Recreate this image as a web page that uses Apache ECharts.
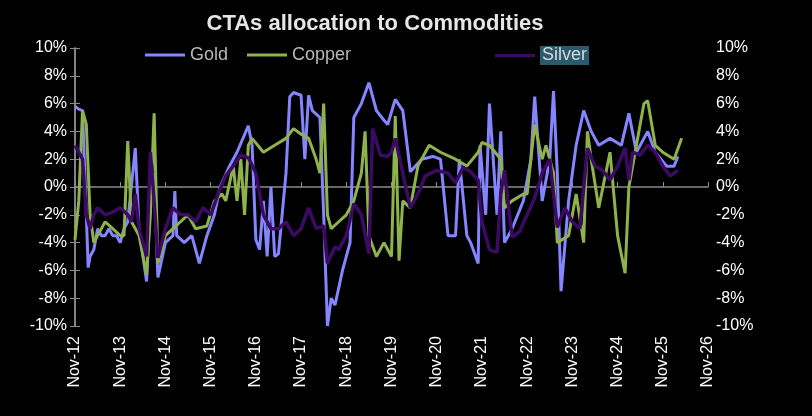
<!DOCTYPE html>
<html>
<head>
<meta charset="utf-8">
<script src="https://cdn.jsdelivr.net/npm/echarts@6/dist/echarts.min.js"></script>
<style>
  html, body { margin: 0; background: #000; }
  #main { width: 812px; height: 416px; }
</style>
</head>
<body>
<div id="main"></div>
<script>
// x = months since Nov-12, y = allocation in %
const gold = [
  [0, 5.8], [1, 5.6], [2, 5.5], [3, -2], [3.5, -5.8], [4, -5], [5, -4.5], [6, -3], [7, -3.5], [8, -3.5],
  [9, -3], [10, -3.5], [11, -3.5], [12, -4], [13, -3], [14, -2.5], [16, 2.8], [17, -3], [19, -6.8], [20, -1],
  [21, 1], [22, -6.5], [24, -4], [26, -3.5], [26.5, -0.3], [27, -3.5], [29, -4], [31, -3.5], [33, -5.5], [35, -3.5],
  [37, -2], [38.5, 0], [41, 1.5], [43, 2.5], [46, 4.4], [47, 3], [48, -3.8], [49, -4.5], [50, -1], [51, -5],
  [52, 0], [53, -5], [54, -4.8], [56, 1], [57, 6.5], [58, 6.8], [60, 6.6], [61, 2], [62, 6.6], [63, 5.5],
  [65, 5], [66, -2], [67, -10], [68, -8], [69, -8.5], [71, -6], [73, -4], [74, 5], [76, 6], [78, 7.5],
  [80, 5.5], [82, 4.8], [83, 4.5], [85, 6.3], [87, 5.5], [89, 1.1], [92, 2], [95, 2.2], [97, 2], [99, -3.5],
  [101, -3.5], [102, 2], [104, -3.5], [105, -4], [107, -5.5], [107.5, 3], [109, -2], [110, 6], [112, -2], [113, 4],
  [114, -4], [116, -3], [119, -1], [121, 2], [122, 6.5], [124, -1], [126, 2], [127, 6.9], [128, 1], [129, -7.5],
  [131, -1], [133, 3], [135, 5.5], [137, 4], [139, 3], [142, 3.5], [145, 3], [147, 5.3], [149, 2.5], [152, 4],
  [154, 2.5], [157, 1.5], [159, 1.5], [160, 2.2]
];
const copper = [
  [0, -3.8], [1, -1], [2, 5.5], [3, 4.5], [4, -2], [5, -4], [6, -3.5], [8, -2.5], [10, -3], [12, -3.5],
  [13, -3.5], [14, 3.3], [15, -2.5], [17, -3.5], [19, -6.3], [20, -2], [21, 5.3], [22, -5.5], [24, -3.5], [26, -3],
  [28, -2.5], [30, -2], [32, -3], [35, -2.8], [37, -1], [39, -0.5], [40, -1], [42, 1.5], [43, -1], [44, 2],
  [45, -2], [46, 3], [47, 3.5], [50, 2.5], [53, 3], [56, 3.5], [58, 4.2], [60, 3.8], [62, 3.5], [64, 2],
  [65, 1], [66, 6], [67, -2], [68, -3], [70, -2.5], [72, -2], [74, -1], [76, 1], [77, 4], [78, -3.5],
  [80, -5], [82, -4], [83, -4.5], [84, -5], [85, 5.1], [86, -5.3], [87, -1], [89, -1.5], [91, 1.5], [94, 3],
  [97, 2.5], [101, 2], [104, 1.5], [107, 2.5], [108, 3.2], [110, 3], [113, 2], [114, -1.5], [116, -1], [119, -0.5],
  [120, -0.5], [122, 4.5], [124, 2], [125, 3], [127, 1], [128, -4], [131, -3.5], [133, -0.5], [135, -4], [136, 4],
  [137, 2], [139, -1.5], [142, 2.5], [144, -3.5], [146, -6.2], [147, 0], [149, 3], [151, 6], [152, 6.2], [154, 3],
  [156, 2.5], [159, 2], [161, 3.5]
];
const silver = [
  [0, 3], [1, 2.5], [2, 2], [3, -2], [4, -3], [5, -2], [6, -1.5], [8, -2], [10, -1.8], [12, -1.5],
  [14, -2], [15, -2.5], [16, -0.5], [17, -3], [19, -5], [20, 2.5], [21, -1], [22, -5.1], [24, -3], [26, -1.5],
  [28, -2], [30, -2], [32, -2.5], [34, -1.5], [36, -2], [38, -0.5], [40, 0.8], [42, 1.5], [44, 2.3], [46, 2.1],
  [48, 1], [50, -2], [52, -3], [54, -3], [56, -2.5], [58, -3.5], [60, -3], [62, -1.5], [64, -3], [66, -2.8],
  [67, -5.5], [69, -4.3], [70, -4.5], [72, -3.5], [74, -1.2], [76, -2], [78, -4.8], [79, 4.2], [81, 2.3], [83, 2.2],
  [84, 2.5], [85, 3.5], [87, 1], [89, -1.5], [91, -0.5], [93, 0.8], [96, 1.2], [99, 1], [101, 0.3], [103, 1.4],
  [105, 1.1], [107, 0.5], [108, -2.5], [110, -4.5], [112, -4.7], [113, -0.5], [114, 1.2], [116, -3.6], [118, -3.2], [120, -2],
  [122, -0.8], [124, 1], [126, 2], [127, -0.5], [128, -2.9], [130, -1.5], [132, -2.5], [134, -3], [136, 2.8], [138, 1.5],
  [140, 1.2], [142, 0.5], [144, 1.5], [146, 2.8], [147, 0.5], [148, 2.5], [150, 2.3], [152, 3], [154, 2.5], [156, 1.5],
  [158, 0.8], [160, 1.2]
];
const tickYears = [12, 13, 14, 15, 16, 17, 18, 19, 20, 21, 22, 23, 24, 25, 26];

const axisGray = '#8c8c8c';
const font = 'Liberation Sans, Arial, sans-serif';

const yAxisBase = (position) => ({
  type: 'value',
  position: position,
  min: -10,
  max: 10,
  interval: 2,
  axisLine: { show: true, lineStyle: { color: axisGray, width: 1.5 } },
  axisTick: { show: true, length: 5, lineStyle: { color: axisGray } },
  splitLine: { show: false },
  axisLabel: { color: '#fff', fontSize: 16, fontFamily: font, formatter: (v) => v + '%' }
});

const lineSeries = (name, data, color, width, z) => ({
  name: name,
  type: 'line',
  data: data,
  showSymbol: false,
  symbol: 'none',
  lineStyle: { color: color, width: width },
  itemStyle: { color: color },
  z: z
});

const legendBase = (name, left, extra) => ({
  data: [name],
  top: 41,
  left: left,
  icon: 'rect',
  itemWidth: 40,
  itemHeight: 3,
  itemGap: 3,
  textStyle: Object.assign({ color: '#b8b8b8', fontSize: 18, fontFamily: font }, extra || {})
});

const chart = echarts.init(document.getElementById('main'));
chart.setOption({
  backgroundColor: '#000',
  animation: false,
  title: {
    text: 'CTAs allocation to Commodities',
    left: 370,
    top: 8,
    textAlign: 'center',
    textStyle: { color: '#e6e6e6', fontSize: 22, fontWeight: 'bold', fontFamily: font }
  },
  legend: [
    legendBase('Gold', 140),
    legendBase('Copper', 242),
    legendBase('Silver', 490, { color: '#d8d8d8', backgroundColor: '#2b5a6e', padding: [1, 2, 0, 2] })
  ],
  grid: { left: 75, right: 104, top: 48, bottom: 90 },
  xAxis: [
    {
      type: 'value',
      min: 0,
      max: 168,
      interval: 12,
      position: 'bottom',
      axisLine: { show: false, onZero: false },
      axisTick: { show: false },
      splitLine: { show: false },
      axisLabel: {
        color: '#fff', fontSize: 16, fontFamily: font, rotate: 90, margin: 10,
        formatter: (v) => 'Nov-' + tickYears[v / 12]
      }
    },
    {
      type: 'value',
      min: 0,
      max: 168,
      interval: 12,
      position: 'top',
      axisLine: { show: true, onZero: true, lineStyle: { color: axisGray, width: 1.5 } },
      axisTick: { show: true, length: 5, lineStyle: { color: axisGray } },
      axisLabel: { show: false },
      splitLine: { show: false }
    }
  ],
  yAxis: [yAxisBase('left'), yAxisBase('right')],
  series: [
    lineSeries('Gold', gold, '#8585ff', 3, 2),
    lineSeries('Copper', copper, '#8fb24a', 3, 3),
    lineSeries('Silver', silver, '#3b0b63', 3.5, 4)
  ]
});
</script>
</body>
</html>
